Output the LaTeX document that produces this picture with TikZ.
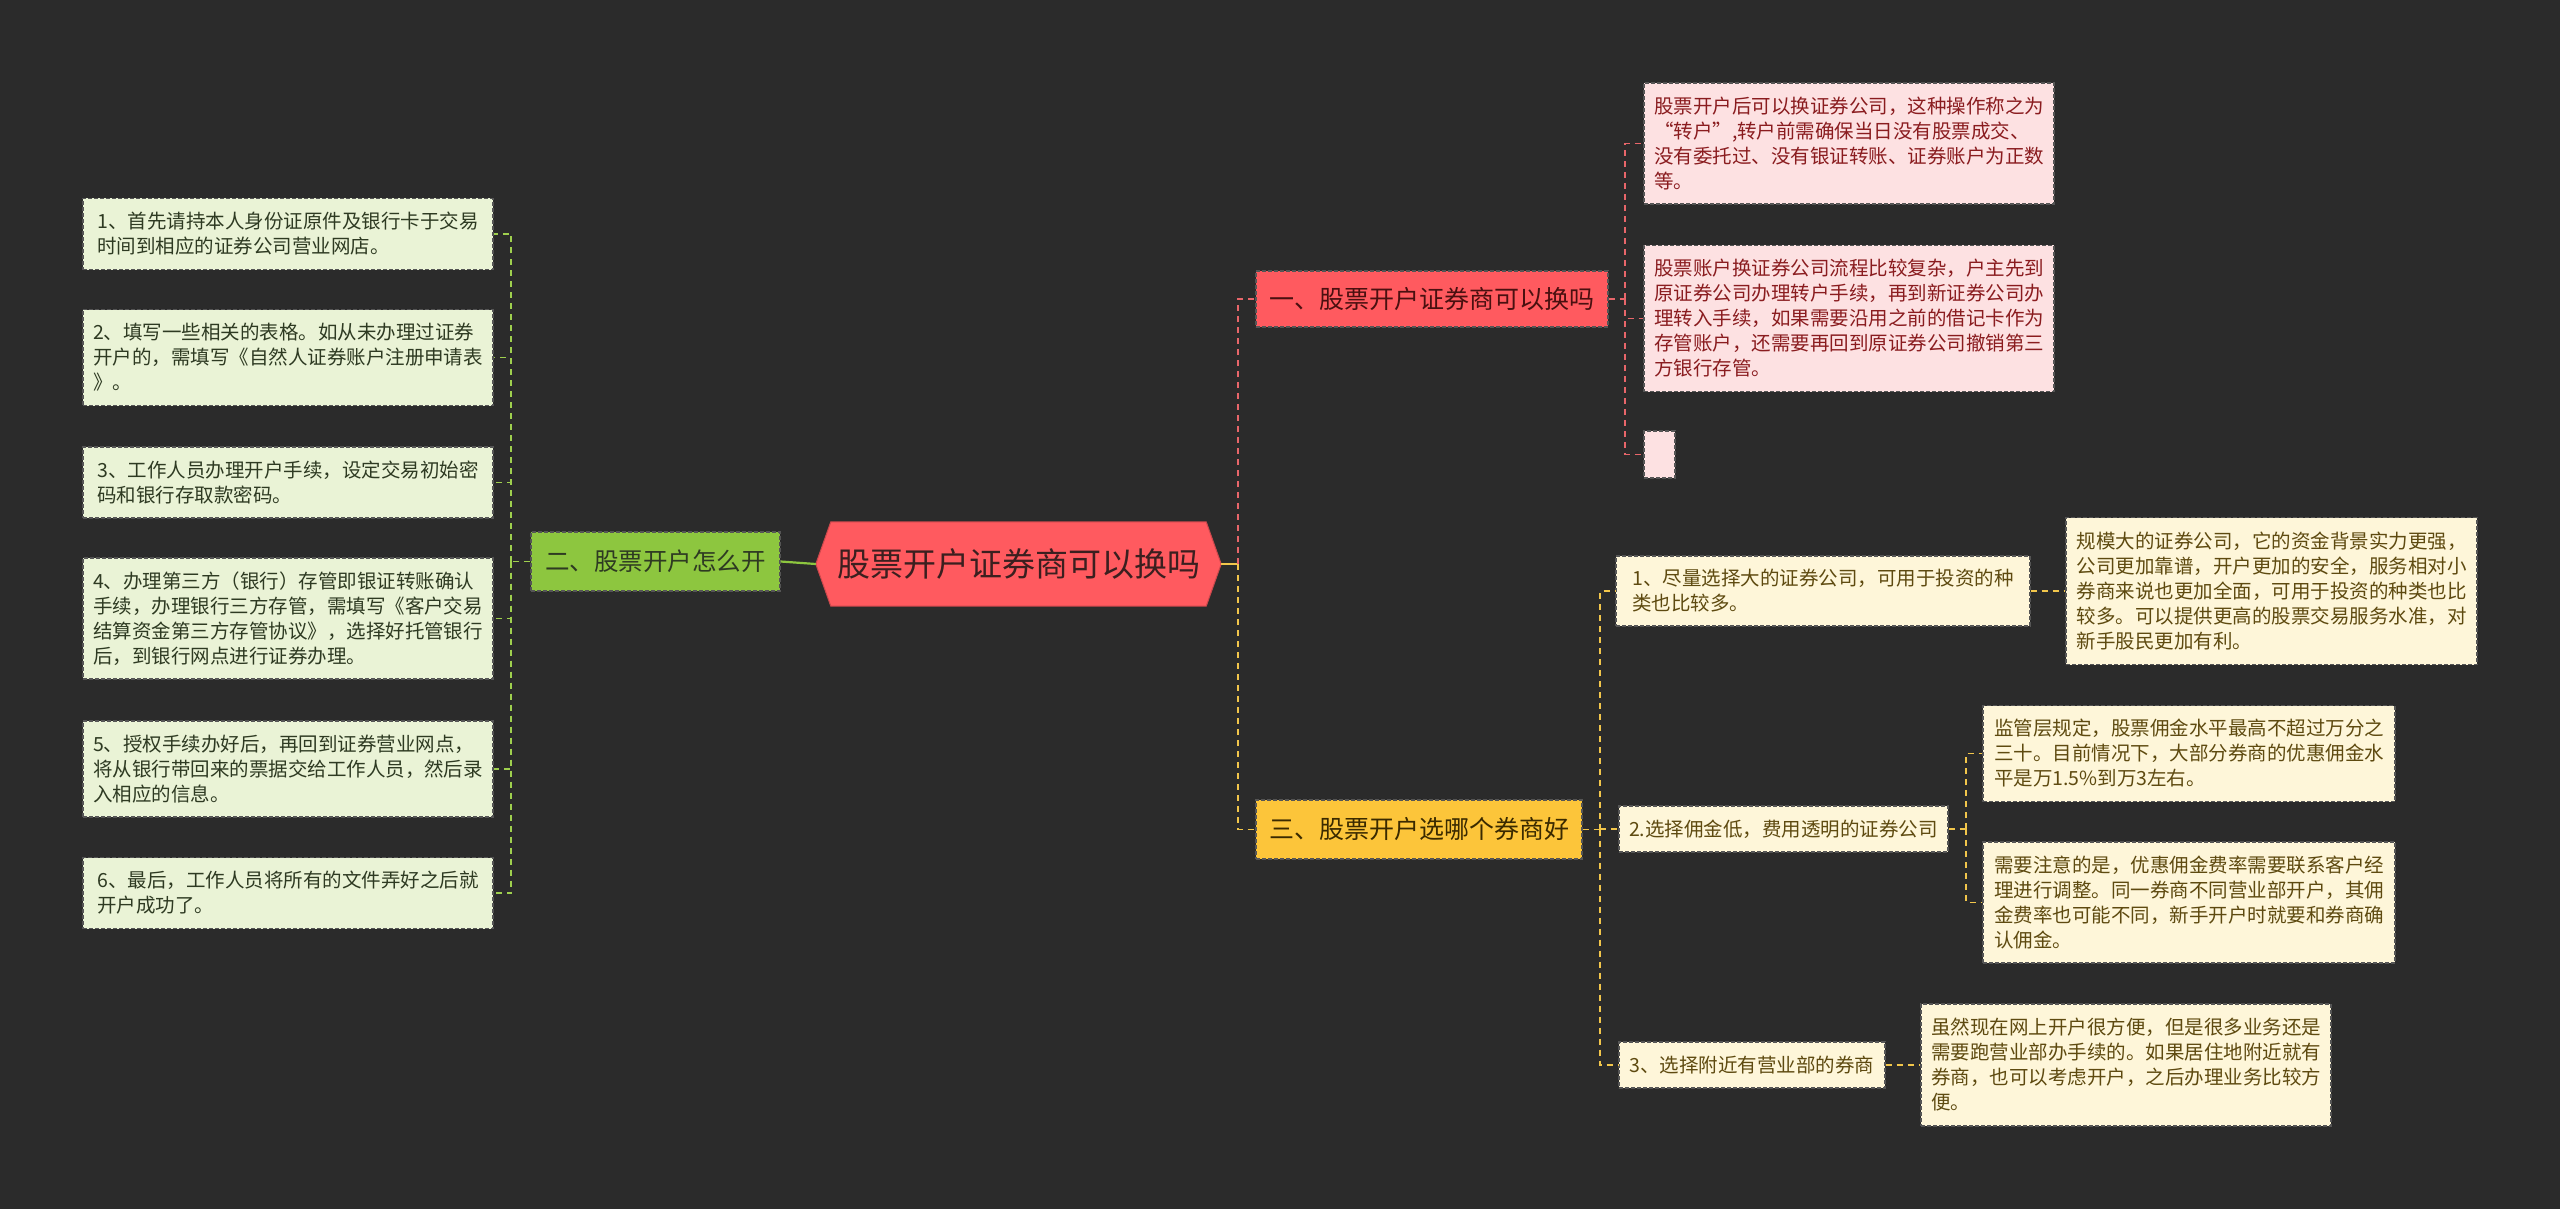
\documentclass[tikz,border=0pt]{standalone}
\usepackage{fontspec}
\newfontfamily\cjk{Noto Sans CJK SC}
\usetikzlibrary{backgrounds}
\definecolor{bgc}{HTML}{2B2B2B}
\definecolor{lfill}{HTML}{EAF3D6}
\definecolor{ltext}{HTML}{2E3A22}
\definecolor{gfill}{HTML}{8DC63F}
\definecolor{gline}{HTML}{9FD04E}
\definecolor{hubfill}{HTML}{FF5A5F}
\definecolor{hubtext}{HTML}{3B1F1F}
\definecolor{rline}{HTML}{E8666A}
\definecolor{rtext}{HTML}{4A1010}
\definecolor{pfill}{HTML}{FDE1E2}
\definecolor{ptext}{HTML}{8A1C1F}
\definecolor{yfill}{HTML}{FCC53A}
\definecolor{ytext}{HTML}{3A2A00}
\definecolor{yline}{HTML}{F2C64B}
\definecolor{cfill}{HTML}{FEF6D9}
\definecolor{ctext}{HTML}{5E4A10}
\definecolor{bord}{HTML}{555555}
\tikzset{
  basebox/.style={draw=bord, line width=1.2pt, dash pattern=on 4pt off 2pt,
    inner xsep=9pt, inner ysep=0pt, align=left,
    font=\cjk\fontsize{19.5pt}{25pt}\selectfont},
  lbox/.style={basebox, fill=lfill, text=ltext, minimum width=410pt},
  pbox/.style={basebox, fill=pfill, text=ptext},
  cbox/.style={basebox, fill=cfill, text=ctext},
  gnode/.style={draw=bord, line width=1.2pt, dash pattern=on 4pt off 2pt, fill=gfill,
    text=ltext, font=\cjk\fontsize{24.5pt}{30pt}\selectfont, inner sep=0pt},
  rnode/.style={draw=bord, line width=1.2pt, dash pattern=on 4pt off 2pt, fill=hubfill,
    text=rtext, font=\cjk\fontsize{25pt}{30pt}\selectfont, inner sep=0pt},
  ynode/.style={draw=bord, line width=1.2pt, dash pattern=on 4pt off 2pt, fill=yfill,
    text=ytext, font=\cjk\fontsize{25pt}{30pt}\selectfont, inner sep=0pt},
  gcon/.style={draw=gline, line width=1.6pt, dash pattern=on 6pt off 5pt},
  rcon/.style={draw=rline, line width=1.6pt, dash pattern=on 6pt off 5pt},
  ycon/.style={draw=yline, line width=1.6pt, dash pattern=on 6pt off 5pt},
}
\begin{document}
\begin{tikzpicture}[x=1pt,y=-1pt]
\useasboundingbox (0,0) rectangle (2560,1209);
\begin{scope}[on background layer]
\fill[bgc] (0,0) rectangle (2560,1209);
\end{scope}

% left children
\node[lbox, minimum height=71pt] (L1) at (288,234) {1、首先请持本人身份证原件及银行卡于交易\\时间到相应的证券公司营业网店。};
\node[lbox, minimum height=96pt] (L2) at (288,357.5) {2、填写一些相关的表格。如从未办理过证券\\开户的，需填写《自然人证券账户注册申请表\\》。};
\node[lbox, minimum height=71pt] (L3) at (288,482.5) {3、工作人员办理开户手续，设定交易初始密\\码和银行存取款密码。};
\node[lbox, minimum height=121pt] (L4) at (288,618.5) {4、办理第三方（银行）存管即银证转账确认\\手续，办理银行三方存管，需填写《客户交易\\结算资金第三方存管协议》，选择好托管银行\\后，到银行网点进行证券办理。};
\node[lbox, minimum height=96pt] (L5) at (288,769) {5、授权手续办好后，再回到证券营业网点，\\将从银行带回来的票据交给工作人员，然后录\\入相应的信息。};
\node[lbox, minimum height=71pt] (L6) at (288,893) {6、最后，工作人员将所有的文件弄好之后就\\开户成功了。};

% green branch
\node[gnode, minimum width=249pt, minimum height=59pt] (gn) at (655.5,561.5) {二、股票开户怎么开};

% hub
\node[text=hubtext, font=\cjk\fontsize{33pt}{40pt}\selectfont, minimum width=405pt, minimum height=84pt, inner sep=0pt] (hub) at (1018.5,564) {股票开户证券商可以换吗};
\begin{scope}[on background layer]
\filldraw[fill=hubfill, draw=hubfill!80!black, line width=1pt] (hub.west) -- ([xshift=15pt]hub.north west) -- ([xshift=-15pt]hub.north east) -- (hub.east) -- ([xshift=-15pt]hub.south east) -- ([xshift=15pt]hub.south west) -- cycle;
\end{scope}

% red branch
\node[rnode, minimum width=352pt, minimum height=56pt] (r1) at (1432,299) {一、股票开户证券商可以换吗};
\node[pbox, minimum width=410pt, minimum height=121pt] (P1) at (1849,143.5) {股票开户后可以换证券公司，这种操作称之为\\“转户”,转户前需确保当日没有股票成交、\\没有委托过、没有银证转账、证券账户为正数\\等。};
\node[pbox, minimum width=410pt, minimum height=146pt] (P2) at (1849,318.5) {股票账户换证券公司流程比较复杂，户主先到\\原证券公司办理转户手续，再到新证券公司办\\理转入手续，如果需要沿用之前的借记卡作为\\存管账户，还需要再回到原证券公司撤销第三\\方银行存管。};
\node[pbox, inner sep=0pt, minimum width=31pt, minimum height=47pt] (P3) at (1659.5,454.5) {};

% yellow branch
\node[ynode, minimum width=326pt, minimum height=59pt] (y3) at (1419,829.5) {三、股票开户选哪个券商好};
\node[cbox, minimum width=414pt, minimum height=70pt] (I1) at (1823,591) {1、尽量选择大的证券公司，可用于投资的种\\类也比较多。};
\node[cbox, minimum width=411pt, minimum height=147pt] (C1) at (2271.5,591) {规模大的证券公司，它的资金背景实力更强，\\公司更加靠谱，开户更加的安全，服务相对小\\券商来说也更加全面，可用于投资的种类也比\\较多。可以提供更高的股票交易服务水准，对\\新手股民更加有利。};
\node[cbox, minimum width=329pt, minimum height=46pt] (I2) at (1783.5,829) {2.选择佣金低，费用透明的证券公司};
\node[cbox, minimum width=412pt, minimum height=96pt] (C2a) at (2189,753.5) {监管层规定，股票佣金水平最高不超过万分之\\三十。目前情况下，大部分券商的优惠佣金水\\平是万1.5\%到万3左右。};
\node[cbox, minimum width=412pt, minimum height=121pt] (C2b) at (2189,902.5) {需要注意的是，优惠佣金费率需要联系客户经\\理进行调整。同一券商不同营业部开户，其佣\\金费率也可能不同，新手开户时就要和券商确\\认佣金。};
\node[cbox, minimum width=266pt, minimum height=46pt] (I3) at (1752,1065) {3、选择附近有营业部的券商};
\node[cbox, minimum width=410pt, minimum height=122pt] (C3) at (2126,1065) {虽然现在网上开户很方便，但是很多业务还是\\需要跑营业部办手续的。如果居住地附近就有\\券商，也可以考虑开户，之后办理业务比较方\\便。};

% junctions
\coordinate (jl) at (511,561.5);
\coordinate (jR) at (1238,564);
\coordinate (jr1) at (1625,299);
\coordinate (jy) at (1600,829.5);
\coordinate (j2) at (1966,829);

% connectors
\draw[gcon] (gn.west) -- (jl);
\foreach \k in {1,...,6} { \draw[gcon] (jl) |- (L\k.east); }
\draw[draw=gfill, line width=2.2pt] (gn.east) -- (hub.west);
\draw[draw=yline, line width=2.2pt] (hub.east) -- (jR);
\draw[rcon] (jR) |- (r1.west);
\draw[ycon] (jR) |- (y3.west);
\draw[rcon] (r1.east) -- (jr1);
\foreach \k in {1,2,3} { \draw[rcon] (jr1) |- (P\k.west); }
\draw[ycon] (y3.east) -- (jy);
\foreach \k in {1,2,3} { \draw[ycon] (jy) |- (I\k.west); }
\draw[ycon] (I1.east) -- (C1.west);
\draw[ycon] (I2.east) -- (j2);
\draw[ycon] (j2) |- (C2a.west);
\draw[ycon] (j2) |- (C2b.west);
\draw[ycon] (I3.east) -- (C3.west);
\end{tikzpicture}
\end{document}
